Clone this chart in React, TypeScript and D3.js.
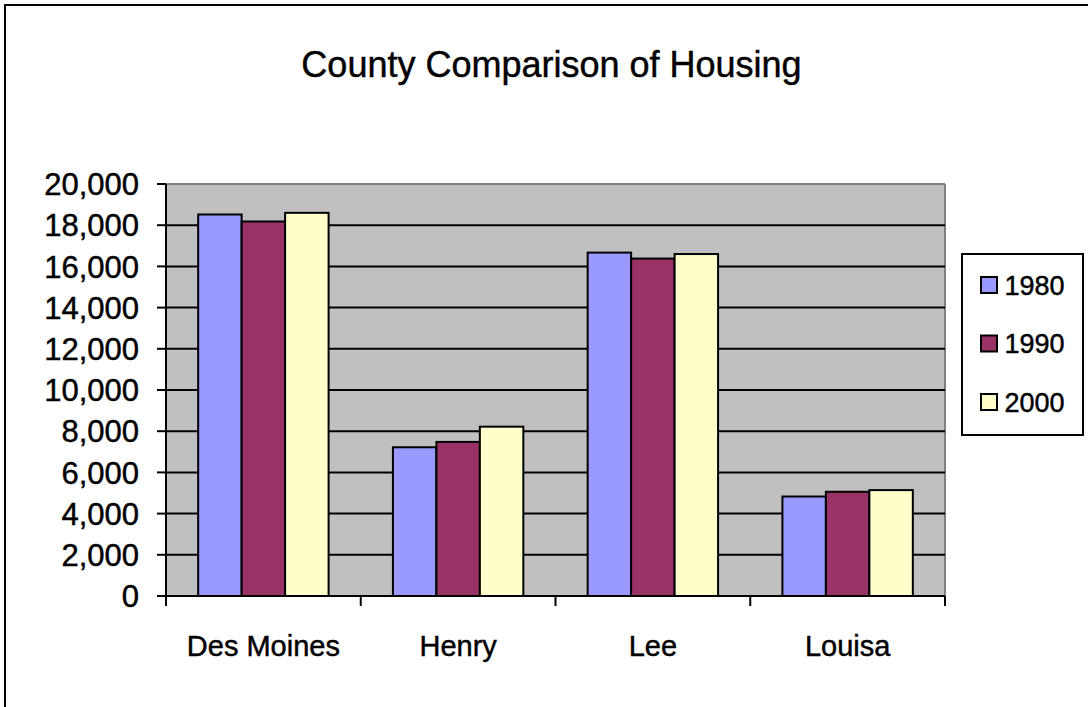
import * as d3 from 'd3';

const counties = ['Des Moines', 'Henry', 'Lee', 'Louisa'];
const years = ['1980', '1990', '2000'];
const housing1980 = [18520, 7220, 16670, 4830];
const housing1990 = [18180, 7480, 16380, 5060];
const housing2000 = [18600, 8220, 16600, 5140];
const yTicks = [0, 2000, 4000, 6000, 8000, 10000, 12000, 14000, 16000, 18000, 20000];
const colors = ['#9999ff', '#993366', '#ffffcc'];

const W = 1088;
const H = 707;
const FONT = '"Liberation Sans", Arial, sans-serif';
// the original text looks a touch heavier than plain Liberation Sans
const textStyle = (size: number) => ({ fontFamily: FONT, fontSize: size, stroke: '#000', strokeWidth: 0.45 });

export default function App() {
  const seriesValues = [housing1980, housing1990, housing2000];
  const plot = { left: 166, right: 945, top: 184, bottom: 596 };

  const x = d3.scaleBand<string>().domain(counties).range([plot.left, plot.right]);
  const x1 = d3.scaleBand<string>().domain(years).range([0, x.bandwidth()]).paddingOuter(0.74);
  const y = d3.scaleLinear().domain([0, 20000]).range([plot.bottom, plot.top]);
  const fmt = d3.format(',');

  const boundaries = [...counties.map(c => x(c) as number), plot.right];

  return (
    <svg width={W} height={H} style={{ position: 'absolute', left: 0, top: 0, background: '#fff' }}>
      {/* chart frame, runs past the picture on the right and bottom */}
      <rect x={5} y={5} width={W + 20} height={H + 20} fill="#fff" stroke="#000" strokeWidth={2} />

      <text x={551.5} y={77} textAnchor="middle" style={textStyle(36)} fill="#000">
        County Comparison of Housing
      </text>

      {/* plot area */}
      <rect x={plot.left} y={plot.top} width={plot.right - plot.left} height={plot.bottom - plot.top} fill="#c0c0c0" />
      <line x1={plot.left} x2={plot.right} y1={plot.top} y2={plot.top} stroke="#808080" strokeWidth={2} />
      <line x1={plot.right} x2={plot.right} y1={plot.top} y2={plot.bottom} stroke="#808080" strokeWidth={2} />

      {yTicks.filter(t => t > 0 && t < 20000).map(t => (
        <line key={t} x1={plot.left} x2={plot.right} y1={y(t)} y2={y(t)} stroke="#000" strokeWidth={2} />
      ))}

      {counties.map((c, i) => (
        <g key={c} transform={`translate(${x(c)},0)`}>
          {years.map((yr, j) => (
            <rect
              key={yr}
              x={x1(yr)}
              y={y(seriesValues[j][i])}
              width={x1.bandwidth()}
              height={plot.bottom - y(seriesValues[j][i])}
              fill={colors[j]}
              stroke="#000"
              strokeWidth={2}
            />
          ))}
        </g>
      ))}

      {/* axes */}
      <line x1={plot.left} x2={plot.left} y1={plot.top} y2={plot.bottom} stroke="#000" strokeWidth={2} />
      <line x1={plot.left} x2={plot.right} y1={plot.bottom} y2={plot.bottom} stroke="#000" strokeWidth={2} />

      {yTicks.map(t => (
        <g key={t}>
          <line x1={plot.left - 9} x2={plot.left} y1={y(t)} y2={y(t)} stroke="#000" strokeWidth={2} />
          <text x={139} y={y(t)} dy="0.36em" textAnchor="end" style={textStyle(31)} fill="#000">
            {fmt(t)}
          </text>
        </g>
      ))}

      {boundaries.map((bx, i) => (
        <line key={i} x1={bx} x2={bx} y1={plot.bottom} y2={plot.bottom + 10} stroke="#000" strokeWidth={2} />
      ))}

      {counties.map(c => (
        <text
          key={c}
          x={(x(c) as number) + x.bandwidth() / 2}
          y={656}
          textAnchor="middle"
          style={textStyle(29)}
          fill="#000"
        >
          {c}
        </text>
      ))}

      {/* legend */}
      <rect x={962} y={254} width={121} height={181} fill="#fff" stroke="#000" strokeWidth={2} />
      {years.map((yr, j) => (
        <g key={yr} transform={`translate(0,${285 + j * 58.5})`}>
          <rect x={981} y={-8} width={16} height={16} fill={colors[j]} stroke="#000" strokeWidth={2} />
          <text x={1004.5} y={0} dy="0.36em" style={textStyle(27)} fill="#000">
            {yr}
          </text>
        </g>
      ))}
    </svg>
  );
}
